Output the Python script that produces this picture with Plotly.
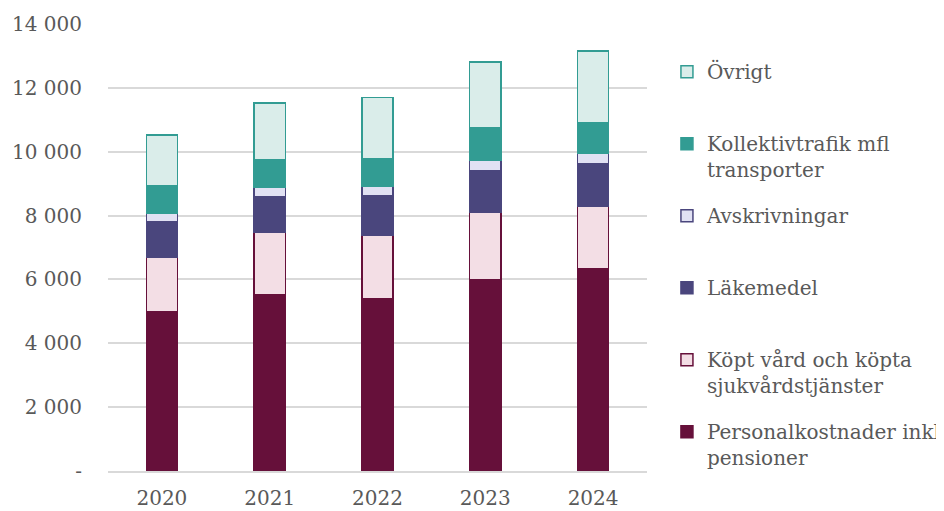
import plotly.graph_objects as go

years = ["2020", "2021", "2022", "2023", "2024"]

personal = [4980, 5535, 5400, 5990, 6325]
kopt_vard = [1710, 1930, 1995, 2110, 1975]
lakemedel = [1120, 1125, 1220, 1300, 1325]
avskrivningar = [260, 285, 290, 335, 335]
kollektivtrafik = [855, 885, 890, 1010, 950]
ovrigt = [1605, 1765, 1910, 2060, 2245]

y_ticks = [0, 2000, 4000, 6000, 8000, 10000, 12000, 14000]
y_tick_text = ["-", "2 000", "4 000", "6 000", "8 000", "10 000", "12 000", "14 000"]

# (values, legend label, fill, outline) from bottom to top
series = [
    (personal, "Personalkostnader inkl<br>pensioner", "#66103A", "#66103A"),
    (kopt_vard, "Köpt vård och köpta<br>sjukvårdstjänster", "#F3DEE5", "#66103A"),
    (lakemedel, "Läkemedel<br>&nbsp;", "#4A467D", "#4A467D"),
    (avskrivningar, "Avskrivningar<br>&nbsp;", "#E1E1F3", "#4A467D"),
    (kollektivtrafik, "Kollektivtrafik mfl<br>transporter", "#329C93", "#329C93"),
    (ovrigt, "Övrigt<br>&nbsp;", "#DAEDEA", "#329C93"),
]

FONT = "DejaVu Serif"
GREY = "#595959"

fig = go.Figure()
for i, (vals, name, fill, line) in enumerate(series):
    fig.add_trace(
        go.Bar(
            x=years,
            y=vals,
            name=name,
            legendgroup=str(i),
            legendrank=100 - i,
            marker=dict(color=fill, line=dict(color=line, width=1.5)),
            width=0.29,
        )
    )

# the page body adds an 8px offset, so margins are shifted to compensate
fig.update_layout(
    barmode="stack",
    width=944,
    height=511,
    margin=dict(l=100, r=305, t=16, b=48, autoexpand=False),
    plot_bgcolor="white",
    paper_bgcolor="white",
    font=dict(family=FONT, size=20, color=GREY),
    legend=dict(
        traceorder="grouped",
        tracegroupgap=17,
        valign="top",
        x=1.037,
        xanchor="left",
        y=0.937,
        yanchor="top",
        maxheight=1,
        font=dict(family=FONT, size=20, color=GREY),
    ),
    showlegend=True,
)
fig.update_yaxes(
    range=[0, 14000],
    tickvals=y_ticks,
    ticktext=y_tick_text,
    showgrid=True,
    gridcolor="#D9D9D9",
    gridwidth=1.5,
    zeroline=False,
    ticks="",
    automargin=False,
    ticklabelstandoff=25,
    tickfont=dict(family=FONT, size=20, color=GREY),
)
fig.update_xaxes(
    showline=True,
    linecolor="#D9D9D9",
    linewidth=1.5,
    ticks="",
    automargin=False,
    ticklabelstandoff=8,
    tickfont=dict(family=FONT, size=20, color=GREY),
)

fig.write_html("out.html")
